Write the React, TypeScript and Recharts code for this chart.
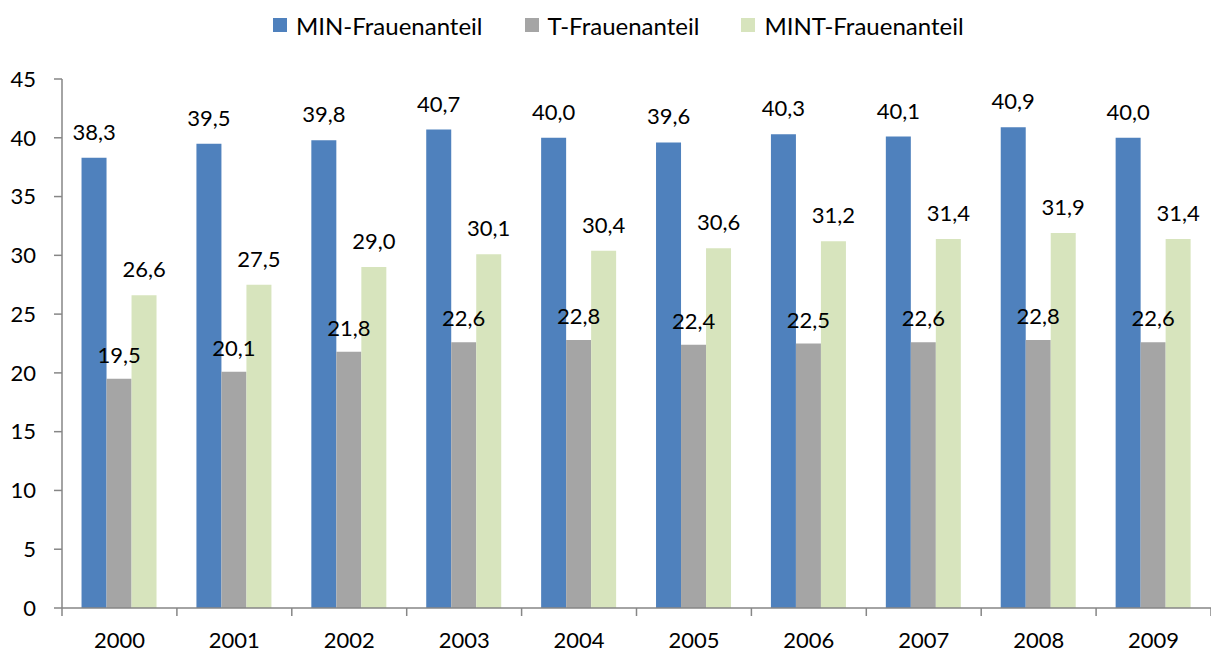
import React from "react";
import { BarChart, Bar, XAxis, YAxis, Legend, LabelList } from "recharts";

const years = ["2000", "2001", "2002", "2003", "2004", "2005", "2006", "2007", "2008", "2009"];
const minShare = [38.3, 39.5, 39.8, 40.7, 40.0, 39.6, 40.3, 40.1, 40.9, 40.0];
const tShare = [19.5, 20.1, 21.8, 22.6, 22.8, 22.4, 22.5, 22.6, 22.8, 22.6];
const mintShare = [26.6, 27.5, 29.0, 30.1, 30.4, 30.6, 31.2, 31.4, 31.9, 31.4];
const yTicks = [0, 5, 10, 15, 20, 25, 30, 35, 40, 45];

const seriesNames = ["MIN-Frauenanteil", "T-Frauenanteil", "MINT-Frauenanteil"];
const colors = ["#4F81BD", "#A5A5A5", "#D7E4BD"];

const data = years.map((y, i) => ({
  year: y,
  min: minShare[i],
  t: tShare[i],
  mint: mintShare[i],
}));

const FONT = "Lato, 'Noto Sans', sans-serif";
const fmt = (v: any) => Number(v).toFixed(1).replace(".", ",");

const XTick = (props: any) => {
  const { x, y, payload, index, visibleTicksCount } = props;
  const half = 57.45;
  return (
    <g>
      <line x1={x - half} y1={y - 8} x2={x - half} y2={y} stroke="#868686" strokeWidth={1.5} />
      {index === visibleTicksCount - 1 ? (
        <line x1={x + half} y1={y - 8} x2={x + half} y2={y} stroke="#868686" strokeWidth={1.5} />
      ) : null}
      <text x={x} y={y + 32} textAnchor="middle" fill="#000" fontSize={22} fontFamily={FONT}>
        {payload.value}
      </text>
    </g>
  );
};

const LegendContent = () => (
  <div style={{ display: "flex", justifyContent: "flex-start", paddingLeft: 273, fontFamily: FONT, fontSize: 24, color: "#000", height: 30, alignItems: "center" }}>
    {seriesNames.map((n, i) => (
      <div key={n} style={{ display: "flex", alignItems: "center", marginRight: i < 2 ? 42 : 0 }}>
        <span style={{ display: "inline-block", width: 14, height: 14, background: colors[i], marginRight: 9 }} />
        <span>{n}</span>
      </div>
    ))}
  </div>
);

const labelProps = { fill: "#000", fontSize: 22, fontFamily: FONT };

export default function App() {
  return (
    <div style={{ position: "absolute", left: 0, top: 0, background: "#fff" }}>
      <BarChart
        width={1211}
        height={653}
        data={data}
        margin={{ top: 49, right: 0, left: 0, bottom: 0 }}
        barCategoryGap="17%"
        barGap={0}
      >
        <Legend verticalAlign="top" content={<LegendContent />} wrapperStyle={{ top: 10, left: 0, width: 1211 }} />
        <YAxis
          domain={[0, 45]}
          ticks={yTicks}
          interval={0}
          width={62}
          axisLine={{ stroke: "#868686", strokeWidth: 1.5 }}
          tickLine={{ stroke: "#868686", strokeWidth: 1.5 }}
          tickSize={8}
          tickMargin={18}
          tick={{ fill: "#000", fontSize: 22, fontFamily: FONT }}
        />
        <XAxis
          dataKey="year"
          height={45}
          axisLine={{ stroke: "#868686", strokeWidth: 1.5 }}
          tickLine={false}
          tick={<XTick />}
          interval={0}
        />
        <Bar dataKey="min" name={seriesNames[0]} fill={colors[0]} isAnimationActive={false}>
          <LabelList dataKey="min" position="top" offset={18} formatter={fmt} {...labelProps} />
        </Bar>
        <Bar dataKey="t" name={seriesNames[1]} fill={colors[1]} isAnimationActive={false}>
          <LabelList dataKey="t" position="top" offset={16} formatter={fmt} {...labelProps} />
        </Bar>
        <Bar dataKey="mint" name={seriesNames[2]} fill={colors[2]} isAnimationActive={false}>
          <LabelList dataKey="mint" position="top" offset={18} formatter={fmt} {...labelProps} />
        </Bar>
      </BarChart>
    </div>
  );
}
